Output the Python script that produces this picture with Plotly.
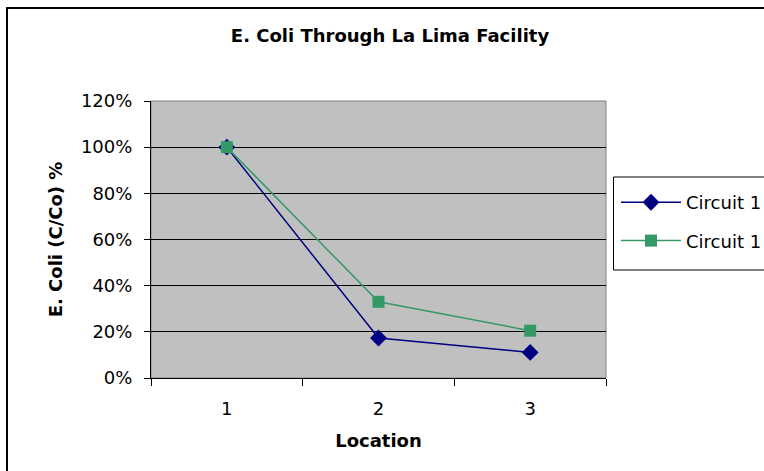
import plotly.graph_objects as go

locations = ["1", "2", "3"]
circuit_a = [1.00, 0.173, 0.111]
circuit_b = [1.00, 0.33, 0.205]
series_names = ["Circuit 1", "Circuit 1"]
y_ticks = [0, 0.2, 0.4, 0.6, 0.8, 1.0, 1.2]
y_tick_labels = ["0%", "20%", "40%", "60%", "80%", "100%", "120%"]

FONT = "DejaVu Sans"

fig = go.Figure()
fig.add_trace(go.Scatter(
    x=locations, y=circuit_a, name=series_names[0], mode="lines+markers",
    line=dict(color="#000080", width=1.5),
    marker=dict(symbol="diamond", size=13, color="#000080"),
    legendgroup="a",
))
fig.add_trace(go.Scatter(
    x=locations, y=circuit_b, name=series_names[1], mode="lines+markers",
    line=dict(color="#339966", width=1.5),
    marker=dict(symbol="square", size=12, color="#339966"),
    legendgroup="b",
))

W, H = 764, 471
ml, mr, mt, mb = 151, 158, 101, 93
pw, ph = W - ml - mr, H - mt - mb

def px_x(x):
    return (x - ml) / pw

def px_y(y):
    return (H - mb - y) / ph

fig.update_layout(
    width=W, height=H,
    margin=dict(l=ml, r=mr, t=mt, b=mb, autoexpand=False),
    paper_bgcolor="white",
    plot_bgcolor="#C0C0C0",
    font=dict(family=FONT, size=18, color="black"),
    title=dict(
        text="<b>E. Coli Through La Lima Facility</b>",
        x=390 / W, xanchor="center", xref="container",
        y=1 - 35.5 / H, yanchor="middle", yref="container",
        font=dict(family=FONT, size=18, color="black"),
    ),
    showlegend=True,
    legend=dict(
        x=px_x(616), y=px_y(184), xanchor="left", yanchor="top",
        xref="paper", yref="paper",
        borderwidth=0, bgcolor="rgba(0,0,0,0)",
        font=dict(family=FONT, size=18, color="black"),
        tracegroupgap=12, itemwidth=60,
    ),
    xaxis=dict(
        type="category", range=[-0.5, 2.5],
        showgrid=False, showline=True, linecolor="black", linewidth=1,
        ticks="outside", tickson="boundaries", ticklen=7, tickcolor="black",
        tickfont=dict(family=FONT, size=18, color="black"),
        ticklabelstandoff=14,
        title=dict(text="<b>Location</b>", font=dict(family=FONT, size=18), standoff=16),
        zeroline=False,
    ),
    yaxis=dict(
        range=[0, 1.2], tickvals=y_ticks, ticktext=y_tick_labels,
        showgrid=True, gridcolor="black", gridwidth=1,
        showline=True, linecolor="black", linewidth=1,
        ticks="outside", ticklen=6, tickcolor="black",
        tickfont=dict(family=FONT, size=18, color="black"),
        ticklabelstandoff=8,
        title=dict(text="<b>E. Coli (C/Co) %</b>", font=dict(family=FONT, size=18), standoff=13),
        zeroline=False,
    ),
    shapes=[
        dict(type="rect", xref="paper", yref="paper", x0=0, x1=1, y0=0, y1=1,
             line=dict(color="#808080", width=1), layer="below"),
        dict(type="rect", xref="paper", yref="paper",
             x0=px_x(613.5), x1=px_x(780), y0=px_y(270), y1=px_y(177),
             line=dict(color="black", width=1), fillcolor="white", layer="below"),
        dict(type="rect", xref="paper", yref="paper",
             x0=px_x(7), x1=px_x(770), y0=px_y(480), y1=px_y(8),
             line=dict(color="black", width=2), layer="above"),
    ],
)

fig.write_html("out.html")
